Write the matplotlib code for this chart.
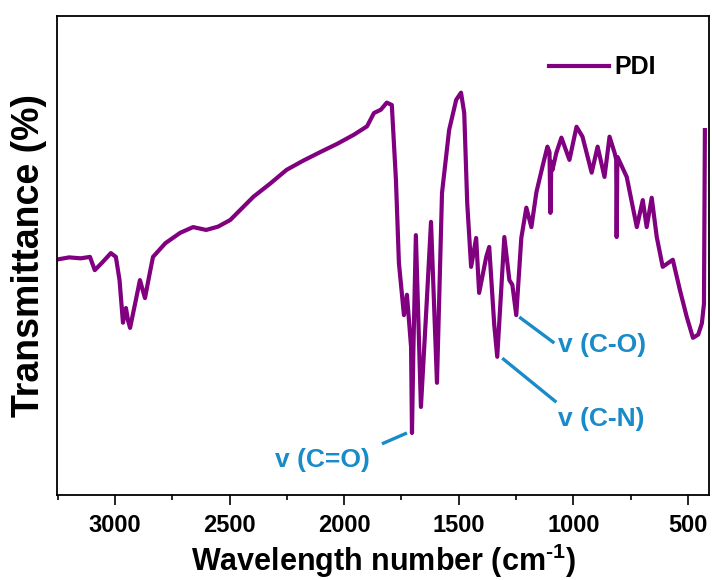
import matplotlib.pyplot as plt
from matplotlib.ticker import MultipleLocator

plt.rcParams['font.family'] = ['Liberation Sans', 'DejaVu Sans']
plt.rcParams['font.weight'] = 'bold'
plt.rcParams['mathtext.fontset'] = 'custom'
plt.rcParams['mathtext.rm'] = 'Liberation Sans:bold'
plt.rcParams['mathtext.bf'] = 'Liberation Sans:bold'

# wavenumber (cm-1) and transmittance
wavenumber = [3258, 3200, 3150, 3109, 3088, 3050, 3018, 2996, 2980, 2965, 2952, 2943, 2934,
              2910, 2891, 2869, 2850, 2834, 2780, 2715, 2659, 2602, 2550, 2497, 2396, 2320,
              2251, 2180, 2102, 2030, 1958, 1900, 1870, 1840, 1814, 1792, 1774, 1761, 1739,
              1726, 1708, 1704, 1698, 1687, 1665, 1640, 1621, 1595, 1573, 1542, 1511, 1490,
              1476, 1463, 1446, 1424, 1411, 1380, 1367, 1345, 1332, 1301, 1279, 1266, 1249,
              1227, 1205, 1183, 1161, 1135, 1113, 1104, 1100, 1096, 1091, 1074, 1052, 1017,
              986, 960, 920, 894, 864, 842, 820, 813, 811, 808, 807, 767, 723, 697, 680, 658,
              636, 610, 566, 535, 505, 478, 455, 439, 430, 426]
transmittance = [49.3, 49.8, 49.6, 49.9, 47.1, 49.0, 50.7, 49.9, 45.0, 36.0, 39.1, 36.5, 34.9,
                 40.5, 45.0, 41.2, 46.0, 49.9, 52.8, 55.0, 56.2, 55.6, 56.3, 57.7, 62.6, 65.5,
                 68.3, 70.2, 72.1, 73.8, 75.7, 77.5, 80.3, 81.0, 82.5, 82.0, 66.2, 48.6, 37.6,
                 41.9, 30.9, 12.7, 30.0, 54.5, 18.2, 40.0, 57.3, 23.3, 63.4, 76.7, 83.1, 84.6,
                 80.3, 61.3, 47.8, 53.9, 42.3, 49.9, 52.0, 35.5, 28.8, 54.1, 45.0, 44.0, 37.6,
                 53.9, 60.3, 56.2, 63.6, 68.9, 73.2, 72.0, 59.2, 70.0, 68.3, 71.9, 75.1, 70.4,
                 77.4, 75.3, 67.7, 73.2, 66.8, 75.3, 71.9, 70.5, 54.1, 70.0, 71.0, 66.8, 56.2,
                 61.9, 56.2, 62.4, 54.1, 47.8, 49.3, 42.9, 37.2, 32.8, 33.5, 35.9, 40.0, 76.7]

# band labels: text, line start (wn, T), line end (wn, T), text position
bands = ['v (C=O)', 'v (C-O)', 'v (C-N)']
band_line_start = [(1726, 12.7), (1236, 37.2), (1310, 28.5)]
band_line_end = [(1835, 10.4), (1083, 31.7), (1074, 19.2)]
band_text_pos = [(2094, 7.0), (1066, 31.3), (1066, 15.6)]

purple = '#800080'
blue = '#1a8bc9'

fig = plt.figure(figsize=(7.12, 5.8), dpi=100)
ax = fig.add_axes([0.080, 0.1466, 0.9158, 0.8258])

ax.plot(wavenumber, transmittance, color=purple, lw=3.0, label='PDI',
        solid_joinstyle='round')

for name, p0, p1, pt in zip(bands, band_line_start, band_line_end, band_text_pos):
    ax.plot([p0[0], p1[0]], [p0[1], p1[1]], color=blue, lw=2.4, solid_capstyle='butt')
    ha = 'center' if name == 'v (C=O)' else 'left'
    ax.text(pt[0], pt[1], name, color=blue, fontsize=19, fontweight='bold',
            ha=ha, va='center')

ax.set_xlim(3253, 408)
ax.set_ylim(-0.4, 100.8)
ax.xaxis.set_major_locator(MultipleLocator(500))
ax.xaxis.set_minor_locator(MultipleLocator(250))
ax.tick_params(axis='x', which='major', direction='out', length=7, width=1.2,
               labelsize=17, pad=7)
ax.tick_params(axis='x', which='minor', direction='out', length=3.5, width=1.2)
ax.set_yticks([])
for s in ax.spines.values():
    s.set_linewidth(1.3)

ax.set_xlabel('Wavelength number (cm$^{\\text{-1}}$)', fontsize=22, fontweight='bold',
              labelpad=3)
ax.set_ylabel('Transmittance (%)', fontsize=27, fontweight='bold', labelpad=7)

leg = ax.legend(loc='upper right', bbox_to_anchor=(0.953, 0.965), frameon=False,
                fontsize=18, handlelength=2.4, handletextpad=0.2)

fig.savefig('out.png', dpi=100)
